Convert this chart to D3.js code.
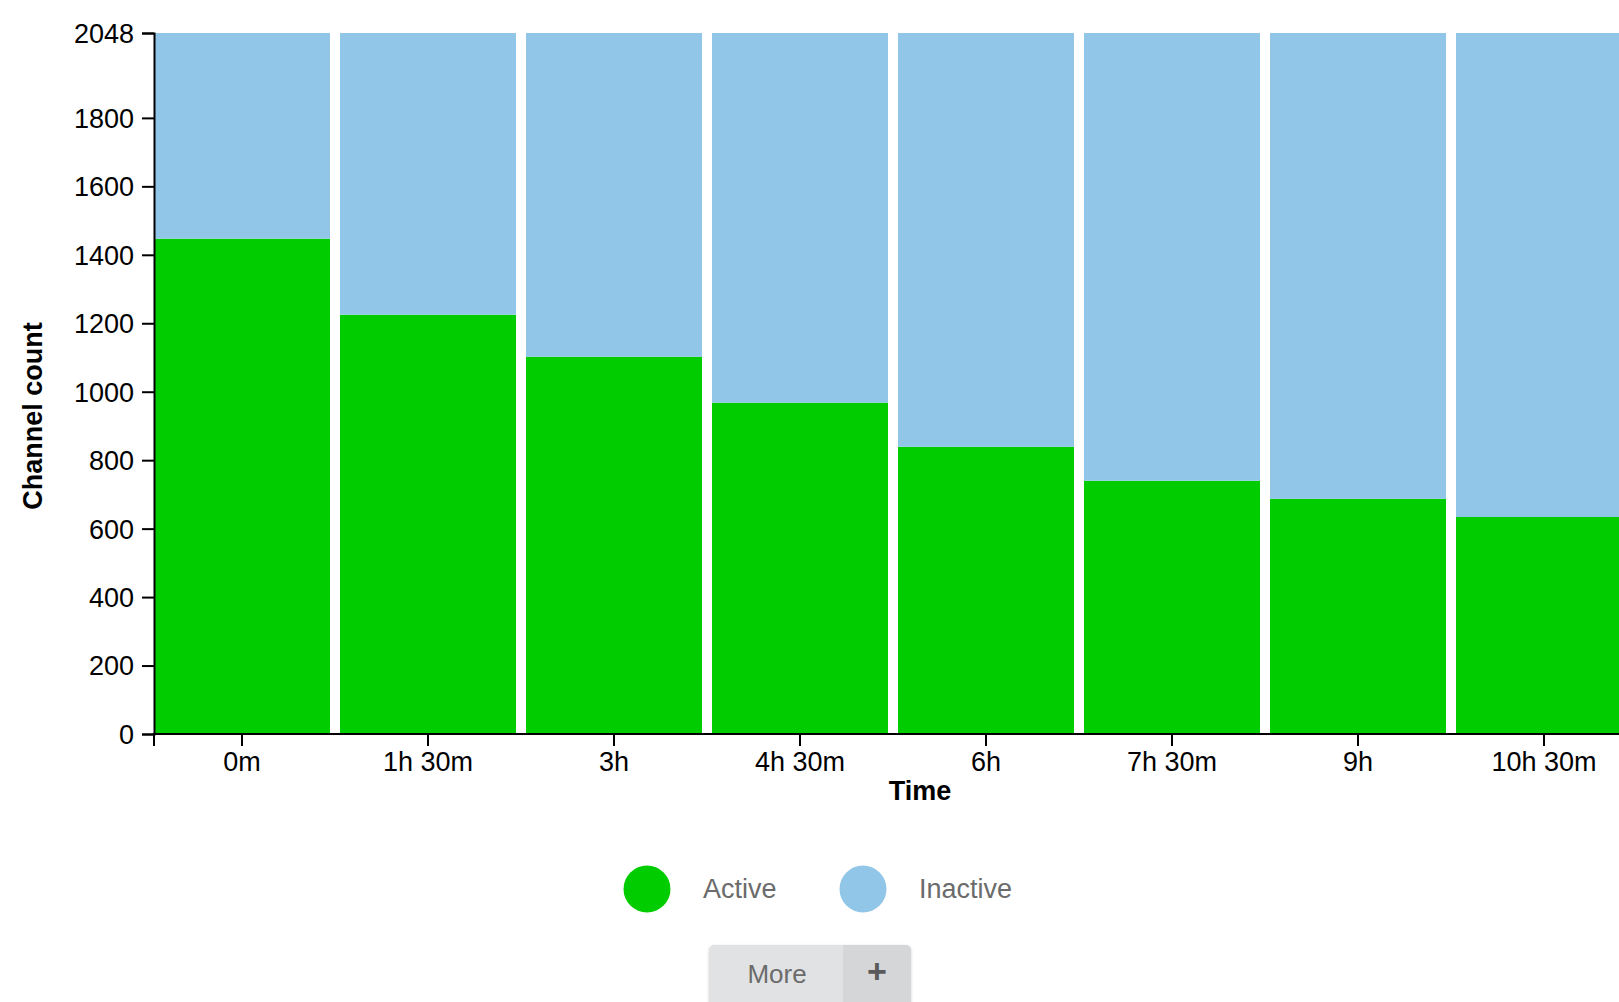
<!DOCTYPE html>
<html>
<head>
<meta charset="utf-8">
<script src="https://cdn.jsdelivr.net/npm/d3@7"></script>
<style>
    body { margin: 0; background: #fff; overflow: hidden; }
    svg { display: block; font-family: "Liberation Sans", Arial, Helvetica, sans-serif; }
    .axis text { font-size: 27px; fill: #000; }
    .axis path, .axis line { stroke: #000; stroke-width: 2; }
</style>
</head>
<body>
<svg id="chart" width="1619" height="1002"></svg>
<script>
// chart data
var times = ['0m', '1h 30m', '3h', '4h 30m', '6h', '7h 30m', '9h', '10h 30m'];
var active = [1447, 1225, 1102, 968, 839, 740, 687, 634];
var inactive = [601, 823, 946, 1080, 1209, 1308, 1361, 1414];
var yTicks = [0, 200, 400, 600, 800, 1000, 1200, 1400, 1600, 1800, 2048];
var seriesNames = ['Active', 'Inactive'];
var seriesColors = ['#00cc00', '#91c6e8'];

var svg = d3.select('#chart');

// plot area
var plotLeft = 154, plotTop = 33, plotBottom = 734;
var step = 186, gap = 10;

var rows = times.map(function(t, i) {
    return {time: t, Active: active[i], Inactive: inactive[i]};
});

var x = d3.scaleBand()
    .domain(times)
    .range([plotLeft, plotLeft + step * times.length - gap])
    .paddingInner(gap / step)
    .paddingOuter(0);

var y = d3.scaleLinear()
    .domain([0, 2048])
    .range([plotBottom, plotTop]);

var color = d3.scaleOrdinal().domain(seriesNames).range(seriesColors);

var stacked = d3.stack().keys(seriesNames)(rows);

// bars
svg.append('g').selectAll('g')
    .data(stacked)
    .join('g')
    .attr('fill', function(d) { return color(d.key); })
    .selectAll('rect')
    .data(function(d) { return d; })
    .join('rect')
    .attr('x', function(d) { return x(d.data.time); })
    .attr('y', function(d) { return y(d[1]); })
    .attr('width', x.bandwidth())
    .attr('height', function(d) { return y(d[0]) - y(d[1]); });

// y axis
svg.append('g')
    .attr('class', 'axis')
    .attr('transform', 'translate(' + plotLeft + ',0)')
    .call(d3.axisLeft(y).tickValues(yTicks).tickSize(12).tickPadding(8).tickFormat(d3.format('d')))
    .selectAll('text').attr('dy', '0.35em');

// x axis (runs off the right edge like the original)
var xAxis = svg.append('g')
    .attr('class', 'axis')
    .attr('transform', 'translate(0,' + plotBottom + ')')
    .call(d3.axisBottom(x).tickSize(12).tickPadding(6));
xAxis.select('.domain').attr('d', 'M' + plotLeft + ',12V0H1700');
xAxis.selectAll('text').attr('dy', '0.71em');

// axis titles
svg.append('text')
    .attr('transform', 'translate(42,416) rotate(-90)')
    .attr('text-anchor', 'middle')
    .style('font-size', '27px')
    .style('font-weight', 'bold')
    .text('Channel count');

svg.append('text')
    .attr('x', 920)
    .attr('y', 800)
    .attr('text-anchor', 'middle')
    .style('font-size', '27px')
    .style('font-weight', 'bold')
    .text('Time');

// legend
var legendX = [647, 863];
var legend = svg.append('g').selectAll('g')
    .data(seriesNames)
    .join('g')
    .attr('transform', function(d, i) { return 'translate(' + legendX[i] + ',889)'; });

legend.append('circle')
    .attr('r', 23.5)
    .attr('fill', function(d) { return color(d); });

legend.append('text')
    .attr('x', 56)
    .attr('y', 9)
    .style('font-size', '27px')
    .style('fill', '#6b6b6b')
    .text(function(d) { return d; });

// "More" button
var defs = svg.append('defs');
var shadow = defs.append('filter').attr('id', 'btnShadow').attr('x', '-10%').attr('y', '-20%').attr('width', '120%').attr('height', '150%');
shadow.append('feDropShadow').attr('dx', 0).attr('dy', 1).attr('stdDeviation', 1.5).attr('flood-color', '#000').attr('flood-opacity', 0.18);
defs.append('clipPath').attr('id', 'btnClip')
    .append('rect').attr('x', 709).attr('y', 945).attr('width', 202).attr('height', 62).attr('rx', 5);

var btn = svg.append('g');
btn.append('rect')
    .attr('x', 709).attr('y', 945).attr('width', 202).attr('height', 62).attr('rx', 5)
    .attr('fill', '#e1e2e4')
    .attr('filter', 'url(#btnShadow)');
btn.append('rect')
    .attr('x', 843).attr('y', 945).attr('width', 68).attr('height', 62)
    .attr('fill', '#d5d6d8')
    .attr('clip-path', 'url(#btnClip)');
btn.append('text')
    .attr('x', 777).attr('y', 983)
    .attr('text-anchor', 'middle')
    .style('font-size', '26px')
    .style('fill', '#6b6b6b')
    .text('More');
btn.append('text')
    .attr('x', 877).attr('y', 983)
    .attr('text-anchor', 'middle')
    .style('font-size', '34px')
    .style('font-weight', 'bold')
    .style('fill', '#5a5a5a')
    .text('+');
</script>
</body>
</html>
